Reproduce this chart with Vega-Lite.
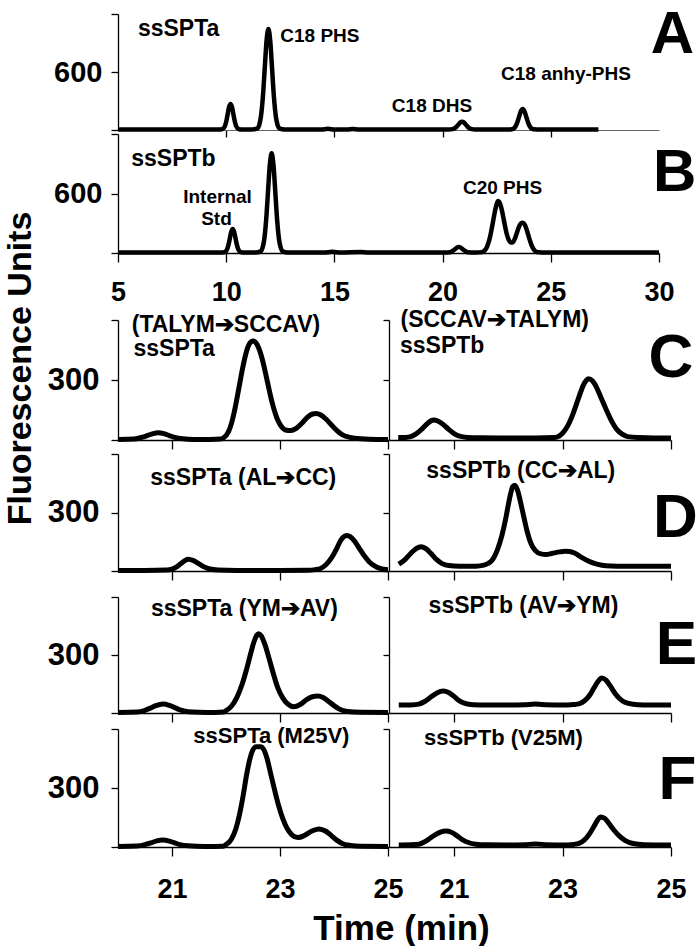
{
"$schema": "https://vega.github.io/schema/vega-lite/v6.json",
"background": "white",
"padding": {"left": 2, "top": 0, "right": 0, "bottom": 0},
"columns": 3,
"align": {"row": "each", "column": "each"},
"bounds": "flush",
"spacing": {"row": 0, "column": 1},
"datasets": {
"A": [{"t":5,"v":5},{"t":6,"v":5},{"t":7,"v":5},{"t":8,"v":5},{"t":9,"v":5},{"t":9.6,"v":5},{"t":9.81,"v":8},{"t":9.875,"v":17},{"t":9.94,"v":41},{"t":10.005,"v":91},{"t":10.07,"v":166},{"t":10.135,"v":239},{"t":10.2,"v":270},{"t":10.265,"v":239},{"t":10.33,"v":166},{"t":10.395,"v":91},{"t":10.46,"v":41},{"t":10.525,"v":17},{"t":10.59,"v":8},{"t":10.8,"v":5},{"t":11.2,"v":5},{"t":11.44,"v":16},{"t":11.525,"v":51},{"t":11.61,"v":146},{"t":11.695,"v":343},{"t":11.78,"v":636},{"t":11.865,"v":923},{"t":11.95,"v":1045},{"t":12.035,"v":923},{"t":12.12,"v":636},{"t":12.205,"v":343},{"t":12.29,"v":146},{"t":12.375,"v":51},{"t":12.46,"v":16},{"t":12.7,"v":5},{"t":13.5,"v":5},{"t":14.4,"v":5},{"t":14.7,"v":12},{"t":15.0,"v":5},{"t":15.6,"v":5},{"t":15.85,"v":11},{"t":16.1,"v":5},{"t":18,"v":5},{"t":20.3,"v":5},{"t":20.45,"v":9},{"t":20.54,"v":16},{"t":20.63,"v":31},{"t":20.72,"v":54},{"t":20.81,"v":76},{"t":20.9,"v":85},{"t":20.99,"v":76},{"t":21.08,"v":54},{"t":21.17,"v":31},{"t":21.26,"v":16},{"t":21.35,"v":9},{"t":21.5,"v":5},{"t":22.5,"v":5},{"t":23.1,"v":5},{"t":23.19,"v":7},{"t":23.275,"v":14},{"t":23.36,"v":34},{"t":23.445,"v":74},{"t":23.53,"v":134},{"t":23.615,"v":193},{"t":23.7,"v":218},{"t":23.785,"v":193},{"t":23.87,"v":134},{"t":23.955,"v":74},{"t":24.04,"v":34},{"t":24.125,"v":14},{"t":24.21,"v":7},{"t":24.5,"v":5},{"t":26,"v":5},{"t":27.2,"v":5}],
"B": [{"t":5,"v":5},{"t":7,"v":5},{"t":9,"v":5},{"t":9.7,"v":5},{"t":9.91,"v":8},{"t":9.975,"v":15},{"t":10.04,"v":37},{"t":10.105,"v":82},{"t":10.17,"v":149},{"t":10.235,"v":214},{"t":10.3,"v":242},{"t":10.365,"v":214},{"t":10.43,"v":149},{"t":10.495,"v":82},{"t":10.56,"v":37},{"t":10.625,"v":15},{"t":10.69,"v":8},{"t":10.9,"v":5},{"t":11.35,"v":5},{"t":11.59,"v":16},{"t":11.675,"v":49},{"t":11.76,"v":140},{"t":11.845,"v":330},{"t":11.93,"v":612},{"t":12.015,"v":888},{"t":12.1,"v":1005},{"t":12.185,"v":888},{"t":12.27,"v":612},{"t":12.355,"v":330},{"t":12.44,"v":140},{"t":12.525,"v":49},{"t":12.61,"v":16},{"t":12.85,"v":5},{"t":14.5,"v":5},{"t":14.9,"v":12},{"t":15.3,"v":5},{"t":16.2,"v":10},{"t":16.6,"v":5},{"t":18,"v":5},{"t":20.15,"v":5},{"t":20.3,"v":7},{"t":20.39,"v":12},{"t":20.48,"v":23},{"t":20.57,"v":38},{"t":20.66,"v":54},{"t":20.75,"v":60},{"t":20.84,"v":54},{"t":20.93,"v":38},{"t":21.02,"v":23},{"t":21.11,"v":12},{"t":21.2,"v":7},{"t":21.4,"v":5},{"t":21.6,"v":6},{"t":21.8,"v":8},{"t":22.0,"v":40},{"t":22.1,"v":90},{"t":22.2,"v":170},{"t":22.3,"v":280},{"t":22.4,"v":400},{"t":22.5,"v":495},{"t":22.56,"v":524},{"t":22.65,"v":500},{"t":22.75,"v":420},{"t":22.85,"v":310},{"t":22.95,"v":205},{"t":23.05,"v":135},{"t":23.15,"v":105},{"t":23.25,"v":110},{"t":23.35,"v":150},{"t":23.45,"v":215},{"t":23.55,"v":275},{"t":23.62,"v":300},{"t":23.7,"v":306},{"t":23.8,"v":285},{"t":23.9,"v":225},{"t":24.0,"v":150},{"t":24.1,"v":85},{"t":24.2,"v":40},{"t":24.3,"v":17},{"t":24.45,"v":7},{"t":24.7,"v":5},{"t":26,"v":5},{"t":28,"v":5},{"t":30,"v":5}],
"Cl": [{"t":20,"v":3},{"t":20.3,"v":5},{"t":20.45,"v":14},{"t":20.55,"v":23},{"t":20.65,"v":32},{"t":20.74,"v":36},{"t":20.85,"v":32},{"t":20.95,"v":22},{"t":21.05,"v":13},{"t":21.2,"v":6},{"t":21.4,"v":3},{"t":21.7,"v":3},{"t":21.9,"v":5},{"t":21.95,"v":10},{"t":22.05,"v":44},{"t":22.1,"v":82},{"t":22.15,"v":136},{"t":22.2,"v":204},{"t":22.25,"v":276},{"t":22.3,"v":349},{"t":22.35,"v":412},{"t":22.4,"v":461},{"t":22.45,"v":488},{"t":22.5,"v":495},{"t":22.55,"v":488},{"t":22.6,"v":464},{"t":22.65,"v":425},{"t":22.7,"v":373},{"t":22.75,"v":312},{"t":22.8,"v":250},{"t":22.85,"v":192},{"t":22.9,"v":144},{"t":22.95,"v":105},{"t":23.0,"v":78},{"t":23.05,"v":60},{"t":23.1,"v":50},{"t":23.2,"v":47},{"t":23.3,"v":58},{"t":23.4,"v":82},{"t":23.5,"v":112},{"t":23.6,"v":130},{"t":23.67,"v":133},{"t":23.75,"v":126},{"t":23.85,"v":105},{"t":23.95,"v":76},{"t":24.05,"v":48},{"t":24.15,"v":27},{"t":24.3,"v":13},{"t":24.5,"v":6},{"t":24.8,"v":3},{"t":25,"v":3}],
"Cr": [{"t":19.97,"v":12},{"t":20.1,"v":13},{"t":20.2,"v":17},{"t":20.3,"v":31},{"t":20.4,"v":53},{"t":20.5,"v":80},{"t":20.58,"v":97},{"t":20.63,"v":100},{"t":20.7,"v":95},{"t":20.8,"v":78},{"t":20.9,"v":53},{"t":21.0,"v":32},{"t":21.1,"v":19},{"t":21.25,"v":13},{"t":21.5,"v":11},{"t":22.0,"v":10},{"t":22.5,"v":10},{"t":22.85,"v":12},{"t":22.9,"v":15},{"t":23.0,"v":34},{"t":23.1,"v":73},{"t":23.2,"v":136},{"t":23.3,"v":213},{"t":23.38,"v":272},{"t":23.44,"v":299},{"t":23.48,"v":306},{"t":23.55,"v":296},{"t":23.62,"v":267},{"t":23.7,"v":218},{"t":23.8,"v":155},{"t":23.9,"v":97},{"t":24.0,"v":53},{"t":24.1,"v":29},{"t":24.2,"v":17},{"t":24.4,"v":12},{"t":24.7,"v":10},{"t":25,"v":10}],
"Dl": [{"t":20,"v":3},{"t":20.5,"v":3},{"t":20.9,"v":5},{"t":21.0,"v":10},{"t":21.1,"v":24},{"t":21.2,"v":46},{"t":21.3,"v":60},{"t":21.4,"v":53},{"t":21.5,"v":37},{"t":21.6,"v":20},{"t":21.7,"v":10},{"t":21.85,"v":5},{"t":22.2,"v":3},{"t":23.0,"v":3},{"t":23.5,"v":4},{"t":23.65,"v":7},{"t":23.75,"v":13},{"t":23.85,"v":32},{"t":23.95,"v":66},{"t":24.05,"v":115},{"t":24.12,"v":155},{"t":24.18,"v":176},{"t":24.24,"v":182},{"t":24.3,"v":176},{"t":24.37,"v":157},{"t":24.46,"v":120},{"t":24.55,"v":82},{"t":24.65,"v":48},{"t":24.75,"v":26},{"t":24.85,"v":13},{"t":25,"v":6}],
"Dr": [{"t":19.98,"v":35},{"t":20.1,"v":60},{"t":20.2,"v":90},{"t":20.3,"v":115},{"t":20.39,"v":125},{"t":20.48,"v":115},{"t":20.58,"v":88},{"t":20.68,"v":58},{"t":20.78,"v":38},{"t":20.9,"v":28},{"t":21.1,"v":25},{"t":21.4,"v":25},{"t":21.55,"v":30},{"t":21.62,"v":38},{"t":21.7,"v":55},{"t":21.8,"v":110},{"t":21.88,"v":180},{"t":21.95,"v":265},{"t":22.0,"v":340},{"t":22.05,"v":405},{"t":22.08,"v":432},{"t":22.12,"v":440},{"t":22.17,"v":415},{"t":22.22,"v":360},{"t":22.28,"v":285},{"t":22.35,"v":200},{"t":22.42,"v":140},{"t":22.5,"v":105},{"t":22.6,"v":88},{"t":22.7,"v":85},{"t":22.8,"v":90},{"t":22.95,"v":98},{"t":23.05,"v":101},{"t":23.13,"v":100},{"t":23.22,"v":92},{"t":23.35,"v":70},{"t":23.5,"v":48},{"t":23.65,"v":34},{"t":23.8,"v":27},{"t":24.0,"v":25},{"t":24.5,"v":25},{"t":25,"v":25}],
"El": [{"t":20,"v":3},{"t":20.35,"v":5},{"t":20.5,"v":14},{"t":20.6,"v":25},{"t":20.7,"v":38},{"t":20.83,"v":47},{"t":20.95,"v":40},{"t":21.05,"v":28},{"t":21.15,"v":16},{"t":21.3,"v":7},{"t":21.5,"v":4},{"t":21.8,"v":3},{"t":21.95,"v":5},{"t":22.0,"v":12},{"t":22.1,"v":35},{"t":22.2,"v":80},{"t":22.3,"v":150},{"t":22.38,"v":225},{"t":22.45,"v":300},{"t":22.52,"v":370},{"t":22.57,"v":402},{"t":22.6,"v":410},{"t":22.65,"v":400},{"t":22.72,"v":355},{"t":22.8,"v":280},{"t":22.88,"v":200},{"t":22.96,"v":130},{"t":23.05,"v":78},{"t":23.15,"v":45},{"t":23.26,"v":32},{"t":23.38,"v":45},{"t":23.5,"v":70},{"t":23.6,"v":84},{"t":23.7,"v":88},{"t":23.8,"v":80},{"t":23.9,"v":60},{"t":24.0,"v":38},{"t":24.1,"v":20},{"t":24.25,"v":8},{"t":24.5,"v":4},{"t":25,"v":3}],
"Er": [{"t":19.98,"v":41},{"t":20.2,"v":42},{"t":20.35,"v":46},{"t":20.45,"v":58},{"t":20.55,"v":78},{"t":20.65,"v":98},{"t":20.75,"v":112},{"t":20.8,"v":114},{"t":20.9,"v":106},{"t":21.0,"v":86},{"t":21.1,"v":63},{"t":21.2,"v":50},{"t":21.35,"v":43},{"t":21.6,"v":41},{"t":22.0,"v":41},{"t":22.3,"v":43},{"t":22.5,"v":46},{"t":22.7,"v":43},{"t":23.0,"v":41},{"t":23.2,"v":44},{"t":23.3,"v":47},{"t":23.4,"v":62},{"t":23.5,"v":92},{"t":23.58,"v":130},{"t":23.65,"v":162},{"t":23.72,"v":181},{"t":23.8,"v":170},{"t":23.88,"v":140},{"t":23.96,"v":105},{"t":24.05,"v":75},{"t":24.15,"v":55},{"t":24.3,"v":45},{"t":24.5,"v":42},{"t":25,"v":41}],
"Fl": [{"t":20,"v":3},{"t":20.35,"v":5},{"t":20.5,"v":12},{"t":20.62,"v":22},{"t":20.72,"v":31},{"t":20.83,"v":35},{"t":20.95,"v":30},{"t":21.05,"v":21},{"t":21.15,"v":12},{"t":21.3,"v":6},{"t":21.6,"v":3},{"t":21.95,"v":4},{"t":22.0,"v":12},{"t":22.1,"v":40},{"t":22.18,"v":90},{"t":22.25,"v":165},{"t":22.32,"v":265},{"t":22.38,"v":365},{"t":22.44,"v":445},{"t":22.5,"v":495},{"t":22.56,"v":510},{"t":22.64,"v":510},{"t":22.7,"v":495},{"t":22.76,"v":450},{"t":22.83,"v":370},{"t":22.9,"v":290},{"t":22.97,"v":215},{"t":23.05,"v":145},{"t":23.13,"v":95},{"t":23.22,"v":62},{"t":23.33,"v":48},{"t":23.45,"v":58},{"t":23.58,"v":80},{"t":23.72,"v":92},{"t":23.85,"v":80},{"t":23.95,"v":58},{"t":24.05,"v":35},{"t":24.15,"v":18},{"t":24.3,"v":8},{"t":24.5,"v":4},{"t":25,"v":3}],
"Fr": [{"t":19.98,"v":10},{"t":20.2,"v":11},{"t":20.35,"v":14},{"t":20.45,"v":25},{"t":20.55,"v":43},{"t":20.65,"v":62},{"t":20.75,"v":76},{"t":20.85,"v":81},{"t":20.95,"v":75},{"t":21.05,"v":58},{"t":21.15,"v":38},{"t":21.25,"v":24},{"t":21.4,"v":14},{"t":21.6,"v":11},{"t":22.0,"v":10},{"t":22.3,"v":12},{"t":22.5,"v":15},{"t":22.7,"v":12},{"t":23.0,"v":10},{"t":23.2,"v":13},{"t":23.3,"v":18},{"t":23.4,"v":35},{"t":23.5,"v":68},{"t":23.58,"v":105},{"t":23.65,"v":138},{"t":23.7,"v":153},{"t":23.78,"v":145},{"t":23.86,"v":118},{"t":23.95,"v":85},{"t":24.05,"v":55},{"t":24.15,"v":34},{"t":24.3,"v":18},{"t":24.5,"v":12},{"t":25,"v":10}],
"labels": [
{"panel":"A","kind":"name","t":7.8,"v":1050,"label":"ssSPTa"},
{"panel":"A","kind":"peak","t":14.33,"v":972,"label":"C18 PHS"},
{"panel":"A","kind":"peak","t":19.51,"v":253,"label":"C18 DHS"},
{"panel":"A","kind":"peak","t":25.7,"v":579,"label":"C18 anhy-PHS"},
{"panel":"A","kind":"letter","t":30.62,"v":985,"label":"A"},
{"panel":"B","kind":"name","t":7.56,"v":948,"label":"ssSPTb"},
{"panel":"B","kind":"peak","t":9.6,"v":565,"label":"Internal"},
{"panel":"B","kind":"peak","t":9.55,"v":343,"label":"Std"},
{"panel":"B","kind":"peak","t":22.77,"v":655,"label":"C20 PHS"},
{"panel":"B","kind":"letter","t":30.72,"v":810,"label":"B"},
{"panel":"Cl","kind":"name","t":22.0,"v":575,"label":"(TALYM➔SCCAV)"},
{"panel":"Cl","kind":"name","t":21.04,"v":455,"label":"ssSPTa"},
{"panel":"Cr","kind":"name","t":21.75,"v":600,"label":"(SCCAV➔TALYM)"},
{"panel":"Cr","kind":"name","t":20.78,"v":470,"label":"ssSPTb"},
{"panel":"Cr","kind":"letter","t":25.0,"v":411,"label":"C"},
{"panel":"Dl","kind":"name","t":22.32,"v":477,"label":"ssSPTa (AL➔CC)"},
{"panel":"Dr","kind":"name","t":22.23,"v":513,"label":"ssSPTb (CC➔AL)"},
{"panel":"Dr","kind":"letter","t":25.08,"v":273,"label":"D"},
{"panel":"El","kind":"name","t":22.34,"v":538,"label":"ssSPTa (YM➔AV)"},
{"panel":"Er","kind":"name","t":22.28,"v":553,"label":"ssSPTb (AV➔YM)"},
{"panel":"Er","kind":"letter","t":25.1,"v":353,"label":"E"},
{"panel":"Fl","kind":"name","t":22.84,"v":564,"label":"ssSPTa (M25V)"},
{"panel":"Fr","kind":"name","t":21.91,"v":554,"label":"ssSPTb (V25M)"},
{"panel":"Fr","kind":"letter","t":25.12,"v":342,"label":"F"}
]
},
"concat": [
{"width": 270, "height": 116, "layer": [
 {"data": {"name": "A"}, "mark": {"type": "line", "color": "black", "strokeWidth": 4.5, "interpolate": "monotone", "strokeJoin": "round"},
  "encoding": {
   "x": {"field": "t", "type": "quantitative", "scale": {"domain": [5, 30], "range": [0, 541], "nice": false, "zero": false}, "axis": {"values": [10, 15, 20, 25], "labels": false, "tickSize": 7, "title": null, "domainColor": "#666", "domainWidth": 1}},
   "y": {"field": "v", "type": "quantitative", "scale": {"domain": [0, 1200], "nice": false}, "axis": {"values": [0, 600, 1200], "labelExpr": "datum.value == 600 ? '600' : ''", "labelFontSize": 29, "labelPadding": 9, "tickSize": 7, "title": null}}}},
 {"data": {"name": "labels"}, "transform": [{"filter": "datum.panel == 'A' && datum.kind == 'name'"}], "mark": {"type": "text", "fontSize": 23, "fontWeight": "bold", "font": "Liberation Sans"}, "encoding": {"x": {"field": "t", "type": "quantitative"}, "y": {"field": "v", "type": "quantitative"}, "text": {"field": "label"}}},
 {"data": {"name": "labels"}, "transform": [{"filter": "datum.panel == 'A' && datum.kind == 'peak'"}], "mark": {"type": "text", "fontSize": 19, "fontWeight": "bold", "font": "Liberation Sans"}, "encoding": {"x": {"field": "t", "type": "quantitative"}, "y": {"field": "v", "type": "quantitative"}, "text": {"field": "label"}}},
 {"data": {"name": "labels"}, "transform": [{"filter": "datum.panel == 'A' && datum.kind == 'letter'"}], "mark": {"type": "text", "fontSize": 60, "fontWeight": "bold", "font": "Liberation Sans"}, "encoding": {"x": {"field": "t", "type": "quantitative"}, "y": {"field": "v", "type": "quantitative"}, "text": {"field": "label"}}}
]},
{"width": 1, "height": 120, "data": {"values": [{"t": 0}]}, "mark": {"type": "point", "opacity": 0}, "encoding": {}},
{"width": 1, "height": 1, "data": {"values": [{"t": 0}]}, "mark": {"type": "point", "opacity": 0}, "encoding": {}},
{"width": 270, "height": 119, "layer": [
 {"data": {"name": "B"}, "mark": {"type": "line", "color": "black", "strokeWidth": 4.5, "interpolate": "monotone", "strokeJoin": "round"},
  "encoding": {
   "x": {"field": "t", "type": "quantitative", "scale": {"domain": [5, 30], "range": [0, 541], "nice": false, "zero": false}, "axis": {"values": [5, 10, 15, 20, 25, 30], "format": "d", "labelFontSize": 27, "labelPadding": 17, "tickSize": 9, "title": null}},
   "y": {"field": "v", "type": "quantitative", "scale": {"domain": [0, 1200], "nice": false}, "axis": {"values": [0, 600, 1200], "labelExpr": "datum.value == 600 ? '600' : ''", "labelFontSize": 29, "labelPadding": 9, "tickSize": 7, "title": null}}}},
 {"data": {"name": "labels"}, "transform": [{"filter": "datum.panel == 'B' && datum.kind == 'name'"}], "mark": {"type": "text", "fontSize": 23, "fontWeight": "bold", "font": "Liberation Sans"}, "encoding": {"x": {"field": "t", "type": "quantitative"}, "y": {"field": "v", "type": "quantitative"}, "text": {"field": "label"}}},
 {"data": {"name": "labels"}, "transform": [{"filter": "datum.panel == 'B' && datum.kind == 'peak'"}], "mark": {"type": "text", "fontSize": 19, "fontWeight": "bold", "font": "Liberation Sans"}, "encoding": {"x": {"field": "t", "type": "quantitative"}, "y": {"field": "v", "type": "quantitative"}, "text": {"field": "label"}}},
 {"data": {"name": "labels"}, "transform": [{"filter": "datum.panel == 'B' && datum.kind == 'letter'"}], "mark": {"type": "text", "fontSize": 60, "fontWeight": "bold", "font": "Liberation Sans"}, "encoding": {"x": {"field": "t", "type": "quantitative"}, "y": {"field": "v", "type": "quantitative"}, "text": {"field": "label"}}}
]},
{"width": 1, "height": 186, "data": {"values": [{"t": 0}]}, "mark": {"type": "point", "opacity": 0}, "encoding": {}},
{"width": 1, "height": 1, "data": {"values": [{"t": 0}]}, "mark": {"type": "point", "opacity": 0}, "encoding": {}},
{"width": 270, "height": 120, "layer": [
 {"data": {"name": "Cl"}, "mark": {"type": "line", "color": "black", "strokeWidth": 5, "interpolate": "monotone", "strokeJoin": "round"},
  "encoding": {
   "x": {"field": "t", "type": "quantitative", "scale": {"domain": [20, 25], "nice": false, "zero": false}, "axis": {"values": [21, 23, 25], "labels": false, "tickSize": 9, "title": null}},
   "y": {"field": "v", "type": "quantitative", "scale": {"domain": [0, 600], "nice": false}, "axis": {"values": [0, 300, 600], "labelExpr": "datum.value == 300 ? '300' : ''", "labelFontSize": 31, "labelPadding": 12, "tickSize": 7, "title": "Fluorescence Units", "titleFontSize": 34, "titleX": -88, "titleY": 48, "titleBaseline": "alphabetic", "titleAlign": "center", "titleAngle": 270}}}},
 {"data": {"name": "labels"}, "transform": [{"filter": "datum.panel == 'Cl'"}], "mark": {"type": "text", "fontSize": 23, "fontWeight": "bold", "font": "Liberation Sans"}, "encoding": {"x": {"field": "t", "type": "quantitative"}, "y": {"field": "v", "type": "quantitative"}, "text": {"field": "label"}}}
]},
{"width": 282, "height": 120, "layer": [
 {"data": {"name": "Cr"}, "mark": {"type": "line", "color": "black", "strokeWidth": 5, "interpolate": "monotone", "strokeJoin": "round"},
  "encoding": {
   "x": {"field": "t", "type": "quantitative", "scale": {"domain": [19.8, 25], "nice": false, "zero": false}, "axis": {"values": [21, 23, 25], "labels": false, "tickSize": 9, "title": null}},
   "y": {"field": "v", "type": "quantitative", "scale": {"domain": [0, 600], "nice": false}, "axis": {"values": [0, 300, 600], "labels": false, "tickSize": 6, "title": null}}}},
 {"data": {"name": "labels"}, "transform": [{"filter": "datum.panel == 'Cr' && datum.kind == 'name'"}], "mark": {"type": "text", "fontSize": 23, "fontWeight": "bold", "font": "Liberation Sans"}, "encoding": {"x": {"field": "t", "type": "quantitative"}, "y": {"field": "v", "type": "quantitative"}, "text": {"field": "label"}}},
 {"data": {"name": "labels"}, "transform": [{"filter": "datum.panel == 'Cr' && datum.kind == 'letter'"}], "mark": {"type": "text", "fontSize": 62, "fontWeight": "bold", "font": "Liberation Sans"}, "encoding": {"x": {"field": "t", "type": "quantitative"}, "y": {"field": "v", "type": "quantitative"}, "text": {"field": "label"}}}
]},
{"width": 1, "height": 134, "data": {"values": [{"t": 0}]}, "mark": {"type": "point", "opacity": 0}, "encoding": {}},
{"width": 270, "height": 117, "layer": [
 {"data": {"name": "Dl"}, "mark": {"type": "line", "color": "black", "strokeWidth": 5, "interpolate": "monotone", "strokeJoin": "round"},
  "encoding": {
   "x": {"field": "t", "type": "quantitative", "scale": {"domain": [20, 25], "nice": false, "zero": false}, "axis": {"values": [21, 23, 25], "labels": false, "tickSize": 9, "title": null}},
   "y": {"field": "v", "type": "quantitative", "scale": {"domain": [0, 600], "nice": false}, "axis": {"values": [0, 300, 600], "labelExpr": "datum.value == 300 ? '300' : ''", "labelFontSize": 31, "labelPadding": 12, "tickSize": 7, "title": null}}}},
 {"data": {"name": "labels"}, "transform": [{"filter": "datum.panel == 'Dl'"}], "mark": {"type": "text", "fontSize": 23, "fontWeight": "bold", "font": "Liberation Sans"}, "encoding": {"x": {"field": "t", "type": "quantitative"}, "y": {"field": "v", "type": "quantitative"}, "text": {"field": "label"}}}
]},
{"width": 282, "height": 117, "layer": [
 {"data": {"name": "Dr"}, "mark": {"type": "line", "color": "black", "strokeWidth": 5, "interpolate": "monotone", "strokeJoin": "round"},
  "encoding": {
   "x": {"field": "t", "type": "quantitative", "scale": {"domain": [19.8, 25], "nice": false, "zero": false}, "axis": {"values": [21, 23, 25], "labels": false, "tickSize": 9, "title": null}},
   "y": {"field": "v", "type": "quantitative", "scale": {"domain": [0, 600], "nice": false}, "axis": {"values": [0, 300, 600], "labels": false, "tickSize": 6, "title": null}}}},
 {"data": {"name": "labels"}, "transform": [{"filter": "datum.panel == 'Dr' && datum.kind == 'name'"}], "mark": {"type": "text", "fontSize": 23, "fontWeight": "bold", "font": "Liberation Sans"}, "encoding": {"x": {"field": "t", "type": "quantitative"}, "y": {"field": "v", "type": "quantitative"}, "text": {"field": "label"}}},
 {"data": {"name": "labels"}, "transform": [{"filter": "datum.panel == 'Dr' && datum.kind == 'letter'"}], "mark": {"type": "text", "fontSize": 62, "fontWeight": "bold", "font": "Liberation Sans"}, "encoding": {"x": {"field": "t", "type": "quantitative"}, "y": {"field": "v", "type": "quantitative"}, "text": {"field": "label"}}}
]},
{"width": 1, "height": 143, "data": {"values": [{"t": 0}]}, "mark": {"type": "point", "opacity": 0}, "encoding": {}},
{"width": 270, "height": 116, "layer": [
 {"data": {"name": "El"}, "mark": {"type": "line", "color": "black", "strokeWidth": 5, "interpolate": "monotone", "strokeJoin": "round"},
  "encoding": {
   "x": {"field": "t", "type": "quantitative", "scale": {"domain": [20, 25], "nice": false, "zero": false}, "axis": {"values": [21, 23, 25], "labels": false, "tickSize": 9, "title": null}},
   "y": {"field": "v", "type": "quantitative", "scale": {"domain": [0, 600], "nice": false}, "axis": {"values": [0, 300, 600], "labelExpr": "datum.value == 300 ? '300' : ''", "labelFontSize": 31, "labelPadding": 12, "tickSize": 7, "title": null}}}},
 {"data": {"name": "labels"}, "transform": [{"filter": "datum.panel == 'El'"}], "mark": {"type": "text", "fontSize": 23, "fontWeight": "bold", "font": "Liberation Sans"}, "encoding": {"x": {"field": "t", "type": "quantitative"}, "y": {"field": "v", "type": "quantitative"}, "text": {"field": "label"}}}
]},
{"width": 282, "height": 116, "layer": [
 {"data": {"name": "Er"}, "mark": {"type": "line", "color": "black", "strokeWidth": 5, "interpolate": "monotone", "strokeJoin": "round"},
  "encoding": {
   "x": {"field": "t", "type": "quantitative", "scale": {"domain": [19.8, 25], "nice": false, "zero": false}, "axis": {"values": [21, 23, 25], "labels": false, "tickSize": 9, "title": null}},
   "y": {"field": "v", "type": "quantitative", "scale": {"domain": [0, 600], "nice": false}, "axis": {"values": [0, 300, 600], "labels": false, "tickSize": 6, "title": null}}}},
 {"data": {"name": "labels"}, "transform": [{"filter": "datum.panel == 'Er' && datum.kind == 'name'"}], "mark": {"type": "text", "fontSize": 23, "fontWeight": "bold", "font": "Liberation Sans"}, "encoding": {"x": {"field": "t", "type": "quantitative"}, "y": {"field": "v", "type": "quantitative"}, "text": {"field": "label"}}},
 {"data": {"name": "labels"}, "transform": [{"filter": "datum.panel == 'Er' && datum.kind == 'letter'"}], "mark": {"type": "text", "fontSize": 62, "fontWeight": "bold", "font": "Liberation Sans"}, "encoding": {"x": {"field": "t", "type": "quantitative"}, "y": {"field": "v", "type": "quantitative"}, "text": {"field": "label"}}}
]},
{"width": 1, "height": 132, "data": {"values": [{"t": 0}]}, "mark": {"type": "point", "opacity": 0}, "encoding": {}},
{"width": 270, "height": 118, "layer": [
 {"data": {"name": "Fl"}, "mark": {"type": "line", "color": "black", "strokeWidth": 5, "interpolate": "monotone", "strokeJoin": "round"},
  "encoding": {
   "x": {"field": "t", "type": "quantitative", "scale": {"domain": [20, 25], "nice": false, "zero": false}, "axis": {"values": [21, 23, 25], "format": "d", "labelFontSize": 27, "labelPadding": 20, "tickSize": 9, "title": "Time (min)", "titleFontSize": 35, "titleX": 283, "titleY": 92, "titleBaseline": "alphabetic", "titleAlign": "center", "titleAngle": 0}},
   "y": {"field": "v", "type": "quantitative", "scale": {"domain": [0, 600], "nice": false}, "axis": {"values": [0, 300, 600], "labelExpr": "datum.value == 300 ? '300' : ''", "labelFontSize": 31, "labelPadding": 12, "tickSize": 7, "title": null}}}},
 {"data": {"name": "labels"}, "transform": [{"filter": "datum.panel == 'Fl'"}], "mark": {"type": "text", "fontSize": 22, "fontWeight": "bold", "font": "Liberation Sans"}, "encoding": {"x": {"field": "t", "type": "quantitative"}, "y": {"field": "v", "type": "quantitative"}, "text": {"field": "label"}}}
]},
{"width": 282, "height": 118, "layer": [
 {"data": {"name": "Fr"}, "mark": {"type": "line", "color": "black", "strokeWidth": 5, "interpolate": "monotone", "strokeJoin": "round"},
  "encoding": {
   "x": {"field": "t", "type": "quantitative", "scale": {"domain": [19.8, 25], "nice": false, "zero": false}, "axis": {"values": [21, 23, 25], "format": "d", "labelFontSize": 27, "labelPadding": 20, "tickSize": 9, "title": null}},
   "y": {"field": "v", "type": "quantitative", "scale": {"domain": [0, 600], "nice": false}, "axis": {"values": [0, 300, 600], "labels": false, "tickSize": 6, "title": null}}}},
 {"data": {"name": "labels"}, "transform": [{"filter": "datum.panel == 'Fr' && datum.kind == 'name'"}], "mark": {"type": "text", "fontSize": 22, "fontWeight": "bold", "font": "Liberation Sans"}, "encoding": {"x": {"field": "t", "type": "quantitative"}, "y": {"field": "v", "type": "quantitative"}, "text": {"field": "label"}}},
 {"data": {"name": "labels"}, "transform": [{"filter": "datum.panel == 'Fr' && datum.kind == 'letter'"}], "mark": {"type": "text", "fontSize": 62, "fontWeight": "bold", "font": "Liberation Sans"}, "encoding": {"x": {"field": "t", "type": "quantitative"}, "y": {"field": "v", "type": "quantitative"}, "text": {"field": "label"}}}
]}
],
"config": {
 "view": {"stroke": null},
 "font": "Liberation Sans",
 "axis": {"grid": false, "domainColor": "black", "tickColor": "black", "domainWidth": 1.3, "tickWidth": 1.3, "labelColor": "black", "labelFont": "Liberation Sans", "labelFontWeight": "bold", "labelFlush": false, "labelOverlap": false, "labelBound": false, "titleColor": "black", "titleFont": "Liberation Sans", "titleFontWeight": "bold"},
 "text": {"color": "black"}
}
}
